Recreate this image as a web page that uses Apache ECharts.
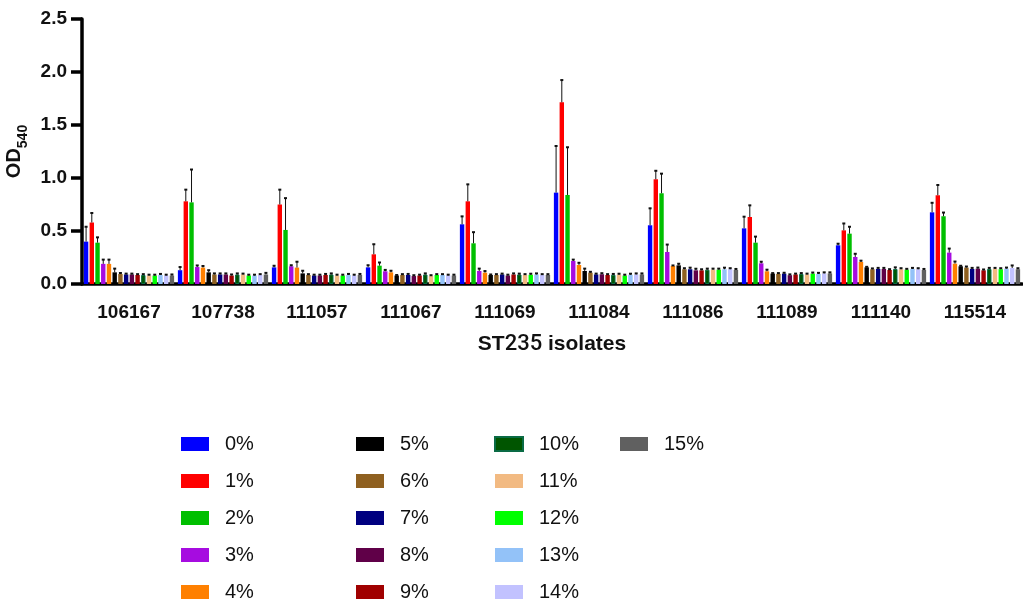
<!DOCTYPE html>
<html>
<head>
<meta charset="utf-8">
<script src="https://cdn.jsdelivr.net/npm/echarts@6/dist/echarts.min.js"></script>
<style>
html,body{margin:0;padding:0;background:#fff;}
#chart{width:1023px;height:603px;}
</style>
</head>
<body>
<div id="chart"></div>
<script>
const categories = ['106167','107738','111057','111067','111069','111084','111086','111089','111140','115514'];
const concentrations = ['0%','1%','2%','3%','4%','5%','6%','7%','8%','9%','10%','11%','12%','13%','14%','15%'];
const colors = ['#0000FF','#FF0000','#00BF00','#A60CE0','#FF8000','#000000','#8F6020','#000080','#600048','#A00000','#005500','#F2BA82','#00FF00','#93C2F8','#C2C2FF','#606060'];
const yTicks = [0, 0.5, 1.0, 1.5, 2.0, 2.5];

// mean OD540 per concentration, in category order
const od0  = [0.40, 0.13, 0.157, 0.157, 0.563, 0.862, 0.554, 0.525, 0.365, 0.676];
const od1  = [0.58, 0.78, 0.75, 0.28, 0.78, 1.714, 0.988, 0.632, 0.506, 0.837];
const od2  = [0.39, 0.77, 0.51, 0.173, 0.384, 0.84, 0.856, 0.39, 0.475, 0.639];
const od3  = [0.19, 0.16, 0.167, 0.12, 0.123, 0.217, 0.302, 0.195, 0.255, 0.296];
const od4  = [0.19, 0.155, 0.155, 0.11, 0.107, 0.18, 0.17, 0.12, 0.208, 0.192];
const od5  = [0.11, 0.11, 0.10, 0.08, 0.085, 0.123, 0.176, 0.098, 0.157, 0.167];
const od6  = [0.094, 0.09, 0.085, 0.085, 0.085, 0.107, 0.139, 0.095, 0.139, 0.155];
const od7  = [0.09, 0.09, 0.08, 0.085, 0.09, 0.09, 0.139, 0.098, 0.142, 0.142];
const od8  = [0.09, 0.09, 0.08, 0.075, 0.08, 0.092, 0.129, 0.083, 0.142, 0.145];
const od9  = [0.085, 0.08, 0.085, 0.08, 0.09, 0.085, 0.129, 0.09, 0.132, 0.129];
const od10 = [0.085, 0.09, 0.09, 0.09, 0.09, 0.087, 0.135, 0.095, 0.142, 0.142];
const od11 = [0.08, 0.09, 0.08, 0.075, 0.085, 0.087, 0.135, 0.09, 0.139, 0.142];
const od12 = [0.08, 0.08, 0.08, 0.085, 0.087, 0.08, 0.135, 0.098, 0.135, 0.139];
const od13 = [0.085, 0.08, 0.085, 0.085, 0.09, 0.087, 0.139, 0.095, 0.142, 0.145];
const od14 = [0.08, 0.085, 0.08, 0.08, 0.085, 0.09, 0.139, 0.10, 0.139, 0.151];
const od15 = [0.08, 0.09, 0.085, 0.08, 0.085, 0.09, 0.132, 0.10, 0.132, 0.139];

// upper error (SD) per concentration
const err0  = [0.14, 0.03, 0.015, 0.02, 0.075, 0.44, 0.16, 0.11, 0.015, 0.09];
const err1  = [0.09, 0.11, 0.14, 0.095, 0.16, 0.21, 0.08, 0.11, 0.065, 0.097];
const err2  = [0.05, 0.31, 0.30, 0.03, 0.105, 0.45, 0.185, 0.057, 0.065, 0.035];
const err3  = [0.04, 0.015, 0.01, 0.013, 0.022, 0.013, 0.07, 0.015, 0.03, 0.038];
const err4  = [0.04, 0.015, 0.055, 0.015, 0.015, 0.02, 0.005, 0.015, 0.012, 0.02];
const err5  = [0.035, 0.02, 0.025, 0.005, 0.005, 0.022, 0.015, 0.005, 0.005, 0.005];
const err6  = [0.01, 0.01, 0.008, 0.008, 0.008, 0.008, 0.01, 0.008, 0.008, 0.01];
const err7  = [0.008, 0.01, 0.008, 0.01, 0.008, 0.008, 0.015, 0.008, 0.01, 0.01];
const err8  = [0.008, 0.01, 0.008, 0.008, 0.008, 0.01, 0.015, 0.008, 0.01, 0.01];
const err9  = [0.008, 0.01, 0.01, 0.008, 0.01, 0.008, 0.01, 0.008, 0.008, 0.008];
const err10 = [0.008, 0.01, 0.01, 0.01, 0.008, 0.008, 0.01, 0.008, 0.015, 0.01];
const err11 = [0.008, 0.008, 0.008, 0.008, 0.008, 0.01, 0.01, 0.008, 0.01, 0.01];
const err12 = [0.008, 0.008, 0.008, 0.008, 0.01, 0.008, 0.01, 0.01, 0.008, 0.01];
const err13 = [0.01, 0.008, 0.01, 0.008, 0.01, 0.01, 0.015, 0.01, 0.01, 0.01];
const err14 = [0.008, 0.008, 0.008, 0.008, 0.008, 0.01, 0.01, 0.01, 0.01, 0.024];
const err15 = [0.01, 0.015, 0.01, 0.008, 0.008, 0.01, 0.01, 0.01, 0.01, 0.01];

const meanSeries = [od0,od1,od2,od3,od4,od5,od6,od7,od8,od9,od10,od11,od12,od13,od14,od15];
const errSeries = [err0,err1,err2,err3,err4,err5,err6,err7,err8,err9,err10,err11,err12,err13,err14,err15];

const FONT = "'Liberation Sans', Arial, sans-serif";
const CAT_GAP = 0.04;   // barCategoryGap
const BAR_GAP = 0.30;   // barGap
const N = concentrations.length;

const barSeries = concentrations.map((name, i) => {
  const s = {
    name: name,
    type: 'bar',
    data: meanSeries[i],
    barCategoryGap: (CAT_GAP * 100) + '%',
    barGap: (BAR_GAP * 100) + '%',
    itemStyle: { color: colors[i] },
    emphasis: { disabled: true }
  };
  if (i === 10) {
    s.itemStyle = { color: colors[i], borderColor: '#0A6B45', borderWidth: 1 };
  }
  return s;
});

const errData = [];
for (let s = 0; s < N; s++) {
  for (let c = 0; c < categories.length; c++) {
    errData.push([c, s, meanSeries[s][c], errSeries[s][c]]);
  }
}

const errorSeries = {
  type: 'custom',
  name: 'err',
  data: errData,
  z: 5,
  silent: true,
  encode: { x: 0, y: 2 },
  renderItem: function (params, api) {
    const c = api.value(0), s = api.value(1), m = api.value(2), e = api.value(3);
    const band = api.size([1, 0])[0];
    const inner = band * (1 - CAT_GAP);
    const bw = inner / (N + (N - 1) * BAR_GAP);
    const cx = api.coord([c, 0])[0];
    const x = cx - inner / 2 + s * bw * (1 + BAR_GAP) + bw / 2;
    const y0 = api.coord([c, m])[1];
    const y1 = api.coord([c, m + e])[1];
    return {
      type: 'group',
      children: [
        { type: 'line', shape: { x1: x, y1: y0, x2: x, y2: y1 }, style: { stroke: '#111', lineWidth: 1 } },
        { type: 'line', shape: { x1: x - 1.5, y1: y1, x2: x + 1.5, y2: y1 }, style: { stroke: '#111', lineWidth: 2 } }
      ]
    };
  }
};

const legendCols = [
  { left: 181, data: concentrations.slice(0, 5) },
  { left: 356, data: concentrations.slice(5, 10) },
  { left: 494, data: concentrations.slice(10, 15) },
  { left: 620, data: concentrations.slice(15, 16) }
];

const chart = echarts.init(document.getElementById('chart'), null, { renderer: 'canvas' });
chart.setOption({
  animation: false,
  backgroundColor: '#fff',
  textStyle: { fontFamily: FONT },
  grid: { left: 82, top: 19, width: 940, height: 265, containLabel: false, outerBoundsMode: 'none' },
  legend: legendCols.map(col => ({
    left: col.left,
    top: 434,
    height: 169,
    padding: 0,
    orient: 'vertical',
    data: col.data,
    icon: 'rect',
    itemWidth: 28,
    itemHeight: 14,
    itemGap: 17,
    selectedMode: false,
    textStyle: { fontFamily: FONT, fontSize: 20, lineHeight: 20, color: '#111', padding: [0, 0, 0, 11] }
  })),
  xAxis: {
    type: 'category',
    data: categories,
    name: 'ST{b|235} isolates',
    nameLocation: 'middle',
    nameGap: 49,
    nameTextStyle: {
      fontFamily: FONT, fontSize: 21, fontWeight: 'bold', color: '#111',
      rich: { b: { fontFamily: 'Roboto, ' + FONT, fontSize: 22, fontWeight: 500, color: '#111' } }
    },
    axisLine: { lineStyle: { color: '#000', width: 3.5 } },
    axisTick: { alignWithLabel: true, length: 10, lineStyle: { color: '#000', width: 3 } },
    axisLabel: { fontFamily: FONT, fontSize: 19, fontWeight: 'bold', color: '#111', margin: 19 },
    splitLine: { show: false }
  },
  yAxis: {
    type: 'value',
    min: yTicks[0],
    max: yTicks[yTicks.length - 1],
    interval: 0.5,
    name: '{a|OD}{s|540}',
    nameLocation: 'middle',
    nameRotate: 90,
    nameGap: 47,
    nameTextStyle: {
      rich: {
        a: { fontFamily: FONT, fontSize: 20, fontWeight: 'bold', color: '#111', lineHeight: 20, verticalAlign: 'bottom', padding: [0, 0, 5, 0] },
        s: { fontFamily: FONT, fontSize: 14, fontWeight: 'bold', color: '#111', lineHeight: 14, verticalAlign: 'bottom' }
      }
    },
    axisLine: { show: true, lineStyle: { color: '#000', width: 3.5 } },
    axisTick: { show: true, length: 11, lineStyle: { color: '#000', width: 3.5 } },
    axisLabel: {
      fontFamily: FONT, fontSize: 19, fontWeight: 'bold', color: '#111', margin: 15,
      formatter: v => v.toFixed(1)
    },
    splitLine: { show: false }
  },
  series: barSeries.concat([errorSeries])
});
</script>
</body>
</html>
